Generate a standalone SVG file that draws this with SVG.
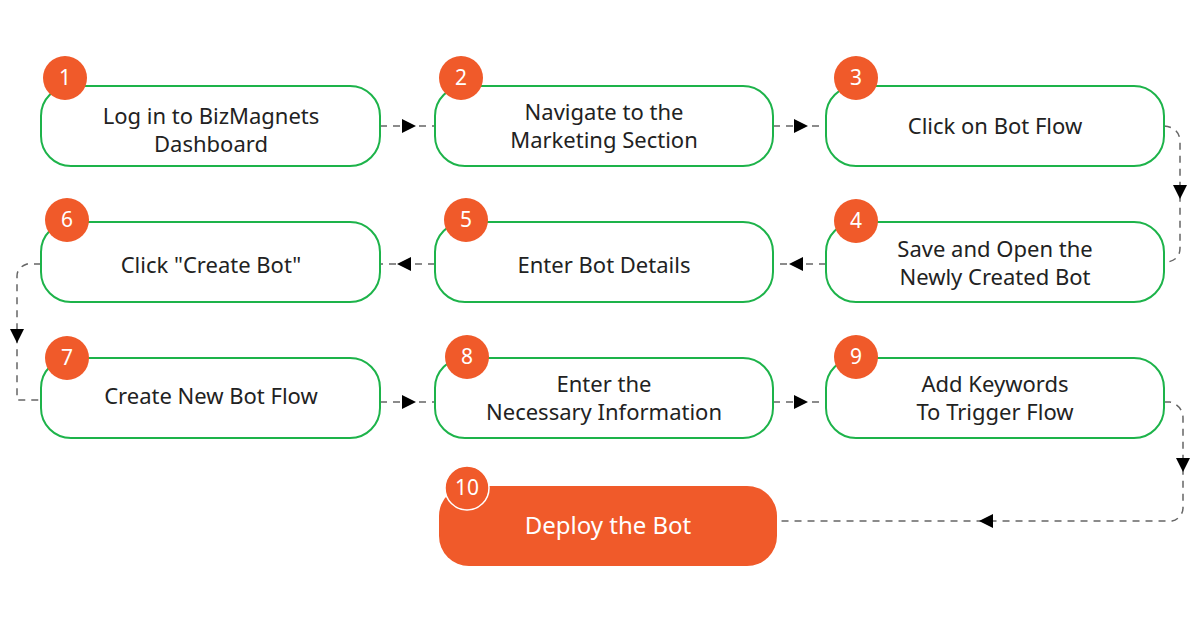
<svg xmlns="http://www.w3.org/2000/svg" width="1200" height="628" viewBox="0 0 1200 628">
<style>
.box{fill:#fff;stroke:#1db34a;stroke-width:2}
.final{fill:#f05a2a}
.badge{fill:#f05a2a}
.bt{font-family:"Noto Sans",sans-serif;font-size:21px;fill:#fff;text-anchor:middle}
.t{font-family:"Noto Sans",sans-serif;font-size:22px;fill:#222;text-anchor:middle}
.tw{font-family:"Noto Sans",sans-serif;font-size:24px;fill:#fff;text-anchor:middle}
.c{fill:none;stroke:#666;stroke-width:1.5;stroke-dasharray:7 6}
.ah{fill:#000}
</style>
<rect width="1200" height="628" fill="#fff"/>
<g id="connectors">
<path class="c" d="M380 126H435"/><path class="ah" d="M402 119L416 126L402 133Z"/>
<path class="c" d="M773 126H826"/><path class="ah" d="M794 119L808 126L794 133Z"/>
<path class="c" d="M1164 126C1175 127 1180 133 1180 142V248C1180 256 1176 260 1168 262"/><path class="ah" d="M1173 185L1180 199L1187 185Z"/>
<path class="c" d="M826 264H773"/><path class="ah" d="M803 257L789 264L803 271Z"/>
<path class="c" d="M435 264H380"/><path class="ah" d="M411 257L397 264L411 271Z"/>
<path class="c" d="M41 264H27C21 266 17 270 17 276V400H41"/><path class="ah" d="M10 329L17 343L24 329Z"/>
<path class="c" d="M380 402H435"/><path class="ah" d="M402 395L416 402L402 409Z"/>
<path class="c" d="M773 402H826"/><path class="ah" d="M794 395L808 402L794 409Z"/>
<path class="c" d="M1164 402H1170C1178 404 1183 410 1183 418V508C1183 514 1178 520 1172 521H777"/><path class="ah" d="M1176 458L1183 472L1190 458Z"/><path class="ah" d="M993 514L979 521L993 528Z"/>
</g>
<g id="n1"><rect class="box" x="41" y="86" width="339" height="80" rx="30"/><circle class="badge" cx="65" cy="78" r="22"/><text class="bt" x="65" y="85">1</text><text class="t" x="211" y="124">Log in to BizMagnets</text><text class="t" x="211" y="152">Dashboard</text></g>
<g id="n2"><rect class="box" x="435" y="86" width="338" height="80" rx="30"/><circle class="badge" cx="461" cy="78" r="22"/><text class="bt" x="461" y="85">2</text><text class="t" x="604" y="120">Navigate to the</text><text class="t" x="604" y="148">Marketing Section</text></g>
<g id="n3"><rect class="box" x="826" y="86" width="338" height="80" rx="30"/><circle class="badge" cx="856" cy="78" r="22"/><text class="bt" x="856" y="85">3</text><text class="t" x="995" y="134">Click on Bot Flow</text></g>
<g id="n4"><rect class="box" x="826" y="222" width="338" height="80" rx="30"/><circle class="badge" cx="856" cy="221" r="22"/><text class="bt" x="856" y="228">4</text><text class="t" x="995" y="257">Save and Open the</text><text class="t" x="995" y="285">Newly Created Bot</text></g>
<g id="n5"><rect class="box" x="435" y="222" width="338" height="80" rx="30"/><circle class="badge" cx="466" cy="220" r="22"/><text class="bt" x="466" y="227">5</text><text class="t" x="604" y="273">Enter Bot Details</text></g>
<g id="n6"><rect class="box" x="41" y="222" width="339" height="80" rx="30"/><circle class="badge" cx="67" cy="220" r="22"/><text class="bt" x="67" y="227">6</text><text class="t" x="211" y="273">Click "Create Bot"</text></g>
<g id="n7"><rect class="box" x="41" y="358" width="339" height="80" rx="30"/><circle class="badge" cx="67" cy="358" r="22"/><text class="bt" x="67" y="365">7</text><text class="t" x="211" y="404">Create New Bot Flow</text></g>
<g id="n8"><rect class="box" x="435" y="358" width="338" height="80" rx="30"/><circle class="badge" cx="467" cy="357" r="22"/><text class="bt" x="467" y="364">8</text><text class="t" x="604" y="392">Enter the</text><text class="t" x="604" y="420">Necessary Information</text></g>
<g id="n9"><rect class="box" x="826" y="358" width="338" height="80" rx="30"/><circle class="badge" cx="856" cy="357" r="22"/><text class="bt" x="856" y="364">9</text><text class="t" x="995" y="392">Add Keywords</text><text class="t" x="995" y="420">To Trigger Flow</text></g>
<g id="n10"><rect class="final" x="439" y="486" width="338" height="80" rx="30"/><circle class="badge" cx="467" cy="488" r="22" stroke="#fff" stroke-width="1.5"/><text class="bt" x="467" y="495">10</text><text class="tw" x="608" y="534">Deploy the Bot</text></g>
</svg>
